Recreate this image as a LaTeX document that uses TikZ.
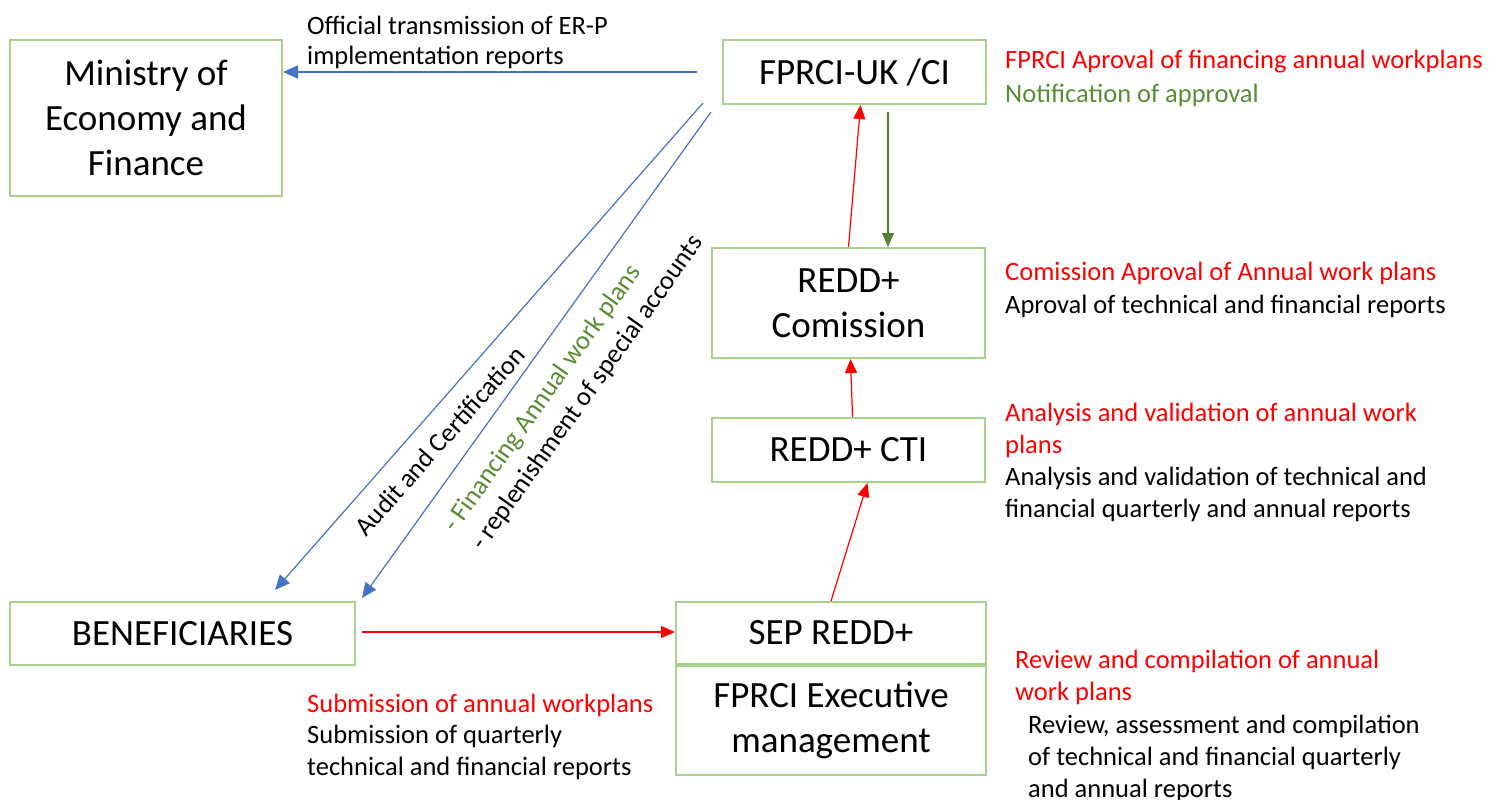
\documentclass[tikz,border=0pt]{standalone}
\usepackage{fontspec}
\setmainfont{Carlito}
\usetikzlibrary{arrows.meta}
\definecolor{boxgreen}{RGB}{169,209,142}
\definecolor{arrblue}{RGB}{68,114,196}
\definecolor{txtgreen}{RGB}{88,140,50}
\definecolor{arrgreen}{RGB}{84,130,53}
\definecolor{myred}{RGB}{255,0,0}
\begin{document}
\begin{tikzpicture}[x=1pt,y=-1pt,
  box/.style={draw=boxgreen,line width=2pt,inner sep=0pt,align=center,
    font=\fontsize{37}{45}\selectfont},
  lbl/.style={anchor=base west,inner sep=0pt,align=left,
    font=\fontsize{26.5}{32}\selectfont},
  rlbl/.style={inner sep=0pt,align=left,font=\fontsize{26.5}{30}\selectfont},
  bluearr/.style={draw=arrblue,line width=1.2pt,-{Triangle[length=15pt,width=13pt]}},
  redarr/.style={draw=myred,line width=1.2pt,-{Triangle[length=14pt,width=12pt]}},
  greenarr/.style={draw=arrgreen,line width=1.2pt,-{Triangle[length=14pt,width=12pt]}}
]
\useasboundingbox (0,0) rectangle (1493,800);

% boxes
\node[box,minimum width=272pt,minimum height=156pt] (mef) at (146,118)
  {Ministry of\\Economy and\\Finance};
\node[box,minimum width=263pt,minimum height=64pt] (uk) at (854.5,72) {FPRCI-UK /CI};
\node[box,minimum width=273pt,minimum height=110pt] (com) at (848.5,303) {REDD+\\Comission};
\node[box,minimum width=273pt,minimum height=64pt] (cti) at (848.5,450) {REDD+ CTI};
\node[box,minimum width=345pt,minimum height=63pt] (ben) at (182.5,633.5) {BENEFICIARIES};
\node[box,minimum width=310pt,minimum height=62pt] (sep) at (831,633) {SEP REDD+};
\node[box,minimum width=310pt,minimum height=109pt] (exe) at (831,720.5) {FPRCI Executive\\management};

% free ends
\coordinate (c1) at (697,72);
\coordinate (c2) at (703,103);
\coordinate (c3) at (711,112);
\coordinate (t2) at (275,590);
\coordinate (t3) at (362,598);
\coordinate (c4) at (362,632);
\coordinate (g1) at (888,112);

% connectors
\draw[bluearr] (c1) -- (mef.east |- c1);
\draw[bluearr] (c2) -- (t2);
\draw[bluearr] (c3) -- (t3);
\draw[redarr] (c4) -- (sep.west |- c4);
\draw[redarr] (sep.north) -- ([xshift=19pt]cti.south);
\draw[redarr] ([xshift=4pt]cti.north) -- ([xshift=2pt]com.south);
\draw[redarr] ([xshift=0pt]com.north) -- ([xshift=6pt]uk.south);
\draw[greenarr] (g1) -- (g1 |- com.north);

% labels
\node[lbl,font=\fontsize{26.5}{30}\selectfont] (l1) at (307,65) {Official transmission of ER-P\\implementation reports};
\node[lbl,text=myred] (l2) at (1005,68) {FPRCI Aproval of financing annual workplans};
\node[lbl,text=txtgreen] (l3) at (1005,102) {Notification of approval};
\node[lbl,text=myred] (l4) at (1005,280) {Comission Aproval of Annual work plans};
\node[lbl] (l5) at (1005,313) {Aproval of technical and financial reports};
\node[lbl,text=myred] (l6) at (1005,453) {Analysis and validation of annual work\\plans};
\node[lbl] (l7) at (1005,517) {Analysis and validation of technical and\\financial quarterly and annual reports};
\node[lbl,text=myred] (l8) at (1015,700) {Review and compilation of annual\\work plans};
\node[lbl] (l9) at (1028,797) {Review, assessment and compilation\\of technical and financial quarterly\\and annual reports};
\node[lbl,text=myred] (l10) at (307,712) {Submission of annual workplans};
\node[lbl] (l11) at (307,775) {Submission of quarterly\\technical and financial reports};

% rotated labels
\node[rlbl,rotate=48.5] (r1) at (440,441) {Audit and Certification};
\node[rlbl,rotate=54.5,text=txtgreen] (r2) at (543,399) {- Financing Annual work plans};
\node[rlbl,rotate=54.5] (r3) at (588,393) {- replenishment of special accounts};
\end{tikzpicture}
\end{document}
